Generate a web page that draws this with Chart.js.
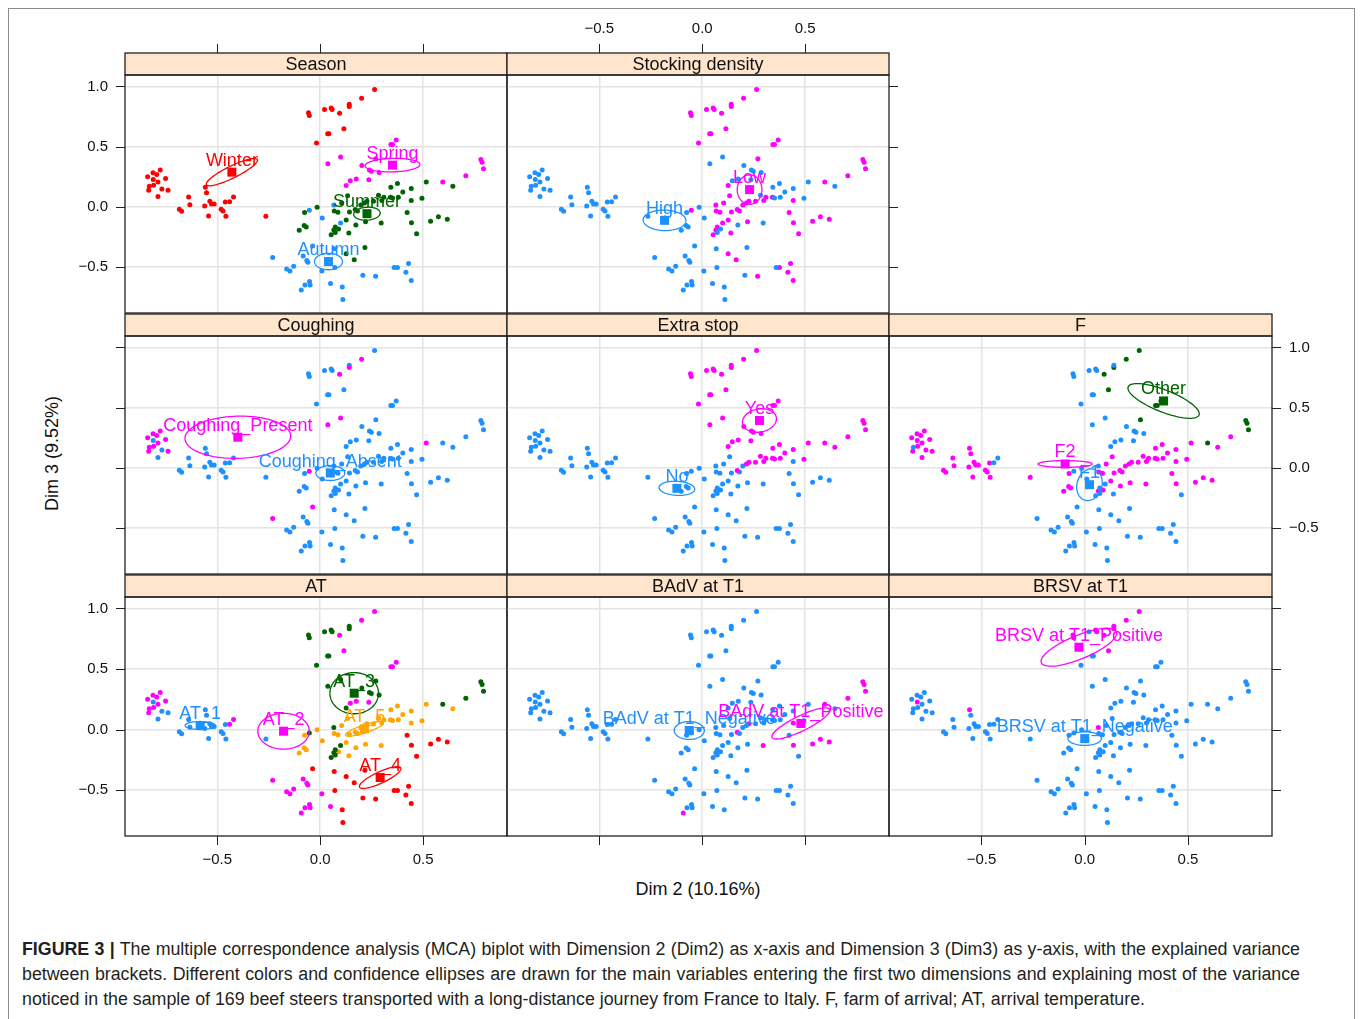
<!DOCTYPE html>
<html lang="en">
<head>
<meta charset="UTF-8">
<title>MCA biplot, Dim 2 vs Dim 3</title>
<script src="https://cdn.jsdelivr.net/npm/chart.js@4.4.0/dist/chart.umd.min.js"></script>
<style>
  body { margin: 0; background: #fff; width: 1360px; height: 1019px; overflow: hidden; position: relative;
         font-family: 'Liberation Sans', Arial, sans-serif; }
  canvas { position: absolute; left: 0; top: 0; }
  .frame { position: absolute; left: 8px; top: 8px; width: 1345px; height: 1040px; border: 1px solid #8c8c8c; }
  .axt { position: absolute; font-size: 18px; color: #111; white-space: nowrap; text-align: center; width: 240px; }
  .cap { position: absolute; left: 22px; width: 1278px; font-size: 17.4px; color: #231f20; line-height: 25px; white-space: nowrap; }
  .just { text-align: justify; text-align-last: justify; }
</style>
</head>
<body>
<div class="frame"></div>
<div class="axt" style="left:578px; top:879px;">Dim 2 (10.16%)</div>
<div class="axt" style="left:-68px; top:443px; transform: rotate(-90deg);">Dim 3 (9.52%)</div>
<div class="cap just" id="cap1" style="top:937px;"><b>FIGURE 3 |</b> The multiple correspondence analysis (MCA) biplot with Dimension 2 (Dim2) as x-axis and Dimension 3 (Dim3) as y-axis, with the explained variance</div>
<div class="cap just" id="cap2" style="top:962px;">between brackets. Different colors and confidence ellipses are drawn for the main variables entering the first two dimensions and explaining most of the variance</div>
<div class="cap" id="cap3" style="top:987px;">noticed in the sample of 169 beef steers transported with a long-distance journey from France to Italy. F, farm of arrival; AT, arrival temperature.</div>
<script>
// axis ticks
const xTicks = [-0.5, 0, 0.5];
const yTicks = [-0.5, 0, 0.5, 1.0];

// individuals: coordinates on Dim 2 and Dim 3
const dim2 = [
  -0.838,-0.812,-0.794,-0.777,-0.751,-0.811,-0.788,-0.830,-0.809,-0.833,-0.769,-0.739,-0.788,
  -0.558,-0.552,-0.639,-0.633,-0.684,-0.673,-0.561,-0.536,-0.528,-0.515,-0.542,-0.481,-0.472,-0.461,-0.440,-0.421,-0.458,-0.264,
  -0.057,-0.053,0.021,0.053,0.058,0.094,0.141,0.141,0.201,0.264,0.115,0.036,0.042,-0.018,0.343,0.351,0.369,
  0.099,0.037,0.270,0.202,0.239,0.248,0.286,0.236,0.175,0.146,0.126,0.343,0.375,0.401,0.442,0.515,0.595,0.644,0.707,0.780,0.786,0.793,
  0.133,0.283,0.299,0.309,0.341,0.351,0.379,0.442,0.494,0.259,0.227,0.215,0.197,0.170,0.181,0.142,0.104,0.066,0.068,0.086,
  -0.015,-0.053,-0.076,0.010,0.126,0.099,0.173,0.220,0.296,0.422,0.443,0.468,0.536,0.574,0.617,
  0.073,0.089,0.066,0.073,0.053,0.139,-0.102,-0.078,-0.068,
  -0.037,0.068,0.217,0.126,0.165,-0.231,-0.083,-0.065,-0.060,-0.163,-0.147,-0.129,0.008,
  0.071,0.207,0.269,0.359,0.375,0.429,0.416,0.442,-0.052,-0.049,-0.074,-0.092,0.050,0.107,0.110
];
const dim3 = [
  0.250,0.283,0.269,0.306,0.236,0.228,0.208,0.172,0.181,0.139,0.150,0.139,0.086,
  0.164,0.117,0.083,0.019,-0.019,-0.036,0.008,0.047,0.025,0.025,-0.075,-0.019,-0.033,0.042,0.044,0.083,-0.078,-0.078,
  0.781,0.758,0.808,0.822,0.808,0.778,0.853,0.833,0.903,0.975,0.650,0.608,0.608,0.531,0.519,0.519,0.556,
  0.414,0.358,0.400,0.344,0.306,0.297,0.286,0.225,0.233,0.217,0.178,0.164,0.194,0.125,0.153,0.208,0.208,0.172,0.258,0.394,0.372,0.317,
  0.092,0.097,0.053,0.081,0.081,0.075,0.081,0.053,0.072,0.047,0.047,0.033,0.017,-0.022,-0.033,-0.042,0.033,0.017,-0.033,-0.044,
  -0.003,-0.028,-0.047,-0.092,-0.108,-0.133,-0.150,-0.122,-0.133,-0.047,-0.131,-0.222,-0.119,-0.081,-0.103,
  -0.167,-0.183,-0.192,-0.211,-0.231,-0.217,-0.194,-0.153,-0.167,
  -0.325,-0.347,-0.336,-0.389,-0.439,-0.419,-0.408,-0.444,-0.458,-0.514,-0.531,-0.492,-0.531,
  -0.503,-0.567,-0.575,-0.503,-0.503,-0.469,-0.542,-0.611,-0.619,-0.647,-0.647,-0.689,-0.636,-0.664,-0.769
];

// category of every individual, as an index into the level list of the variable
const season = [
  0,0,0,0,0,0,0,0,0,0,0,0,0,
  0,0,0,0,0,0,0,0,0,0,0,0,0,0,0,0,0,0,
  0,0,0,0,0,0,0,0,0,0,0,0,0,0,1,1,1,
  1,1,1,1,1,1,1,1,1,1,1,2,2,2,2,2,1,2,1,1,1,1,
  2,2,2,2,2,2,2,2,2,2,2,2,2,2,2,2,2,3,2,2,
  2,3,2,3,2,3,2,2,2,2,2,2,2,2,2,
  2,2,2,2,2,2,2,2,2,
  3,3,2,2,2,3,3,3,3,3,3,3,3,
  3,3,3,3,3,3,3,3,3,3,3,3,3,3,3
];
const stocking = [
  0,0,0,0,0,0,0,0,0,0,0,0,0,
  0,0,0,0,0,0,0,0,0,0,0,0,0,0,0,0,0,0,
  1,1,1,1,1,1,1,1,1,1,1,1,1,1,1,1,1,
  0,0,1,0,0,0,0,0,0,0,1,0,0,0,0,0,1,0,1,1,1,1,
  1,0,1,1,1,0,0,1,0,1,1,1,1,1,1,1,1,1,1,1,
  0,1,0,0,1,1,0,1,0,1,1,1,1,1,1,
  1,0,1,0,1,1,0,0,0,
  0,0,0,1,1,0,0,0,0,0,0,0,0,
  0,0,1,0,1,1,1,1,0,0,0,0,0,0,0
];
const coughing = [
  0,0,0,0,0,1,0,0,0,0,1,0,1,
  1,1,1,1,1,1,1,1,1,1,1,1,1,1,1,1,1,1,
  1,1,1,1,1,0,1,0,0,1,1,1,1,1,1,1,1,
  0,0,1,1,1,1,1,1,1,1,1,1,1,1,1,0,1,1,1,1,1,1,
  1,1,1,1,1,1,1,1,1,1,1,1,1,1,1,1,1,1,1,1,
  1,0,1,1,1,1,1,1,1,1,1,1,1,1,1,
  1,1,1,1,1,1,1,1,1,
  0,1,1,1,1,0,1,1,1,1,1,1,1,
  1,1,1,1,1,1,1,1,1,1,1,1,1,1,1
];
const extraStop = [
  1,1,1,1,1,1,1,1,1,1,1,1,1,
  1,1,1,1,1,1,1,1,1,1,1,1,1,1,1,1,1,1,
  0,0,0,0,0,0,0,0,0,0,0,0,0,0,0,0,0,
  0,0,0,0,0,0,0,0,0,0,0,0,0,0,0,0,0,0,0,0,0,0,
  1,0,0,0,0,0,0,1,0,0,0,0,1,0,1,1,1,1,1,1,
  1,1,1,1,1,1,1,1,1,1,1,1,1,1,1,
  1,1,1,1,1,1,1,1,1,
  1,1,1,1,1,1,1,1,1,1,1,1,1,
  1,1,1,1,1,1,1,1,1,1,1,1,1,1,1
];
const farm = [
  1,1,1,1,1,1,1,0,1,1,1,1,1,
  1,1,1,1,1,1,1,1,1,1,1,1,1,1,0,0,1,1,
  0,0,0,0,0,2,0,2,2,2,2,0,0,0,2,2,2,
  0,0,2,0,0,0,0,0,0,0,0,1,1,1,1,1,2,1,1,2,2,2,
  1,1,1,1,1,1,1,1,1,1,1,1,1,1,1,1,1,0,1,1,
  0,0,1,0,1,0,1,1,1,1,1,0,1,1,1,
  0,1,1,0,0,0,1,1,1,
  0,0,0,0,0,0,0,0,0,0,0,0,0,
  0,0,0,0,0,0,0,0,0,0,0,0,0,0,0
];
const arrivalTemp = [
  1,1,1,1,1,0,1,1,1,1,0,0,0,
  0,0,0,0,0,0,0,0,0,0,0,0,0,0,1,1,0,0,
  2,2,2,2,2,1,2,2,1,1,1,2,2,2,1,1,1,
  2,2,2,2,2,2,2,1,1,1,2,4,4,4,4,4,2,4,2,2,2,2,
  4,4,4,4,4,4,4,4,4,4,4,4,4,4,4,4,4,2,4,4,
  4,2,4,4,4,2,4,4,4,3,3,3,3,3,3,
  2,4,2,2,2,4,4,4,4,
  3,3,3,3,3,1,1,1,1,1,1,1,1,
  3,3,3,3,3,3,3,3,1,1,1,1,1,3,3
];
const badv = [
  0,0,0,0,0,0,0,0,0,0,0,0,0,
  0,0,0,0,0,0,0,0,0,0,0,0,0,0,0,0,0,0,
  0,0,0,0,0,0,0,0,0,0,0,0,0,0,0,0,0,
  0,0,0,0,0,0,0,0,0,0,0,0,0,0,0,0,1,0,1,1,1,1,
  0,0,0,0,0,0,0,1,0,0,1,0,0,1,0,0,0,0,0,0,
  0,0,0,0,0,0,0,0,1,0,1,0,1,1,1,
  0,0,0,0,0,0,0,0,0,
  0,0,0,0,0,0,0,0,0,0,0,0,0,
  0,0,0,0,0,0,0,0,0,0,0,1,0,0
];
const brsv = [
  0,0,0,0,0,1,0,0,0,0,0,0,0,
  1,0,0,0,0,0,0,0,0,0,0,0,0,0,0,0,0,0,
  1,1,0,1,1,1,1,1,1,1,1,0,0,0,0,0,0,
  0,0,0,0,0,0,0,0,0,0,0,0,0,0,0,0,0,0,0,0,0,0,
  0,0,0,0,0,0,0,0,0,0,0,0,0,0,0,0,0,1,0,0,
  0,0,0,0,0,0,0,0,0,0,0,0,0,0,0,
  0,0,0,0,0,0,0,0,0,
  0,0,0,0,0,0,0,0,0,0,0,0,0,
  0,0,0,0,0,0,0,0,0,0,0,0,0,0,0
];

// category levels, their coordinates and confidence ellipses [semi-axis a, semi-axis b, angle deg]
const seasonLevels = ['Winter', 'Spring', 'Summer', 'Autumn'];
const seasonCentres = [[-0.429, 0.289], [0.351, 0.347], [0.227, -0.056], [0.040, -0.453]];
const seasonEllipses = [[0.163, 0.042, 42], [0.133, 0.056, 3], [0.065, 0.053, 15], [0.068, 0.068, 0]];

const stockingLevels = ['High', 'Low'];
const stockingCentres = [[-0.183, -0.111], [0.230, 0.144]];
const stockingEllipses = [[0.104, 0.085, -5], [0.060, 0.122, 0]];

const coughingLevels = ['Coughing_Present', 'Coughing_Absent'];
const coughingCentres = [[-0.400, 0.255], [0.049, -0.042]];
const coughingEllipses = [[0.257, 0.175, 4], [0.070, 0.062, 0]];

const extraStopLevels = ['Yes', 'No'];
const extraStopCentres = [[0.278, 0.394], [-0.123, -0.169]];
const extraStopEllipses = [[0.080, 0.100, -20], [0.087, 0.058, -8]];

const farmLevels = ['F1', 'F2', 'Other'];
const farmCentres = [[0.023, -0.139], [-0.095, 0.033], [0.382, 0.556]];
const farmEllipses = [[0.061, 0.132, -5], [0.131, 0.028, 0], [0.210, 0.080, -38]];

const arrivalTempLevels = ['AT_1', 'AT_2', 'AT_3', 'AT_4', 'AT_5'];
const arrivalTempCentres = [[-0.583, 0.033], [-0.178, -0.014], [0.165, 0.300], [0.291, -0.397], [0.215, 0.005]];
const arrivalTempEllipses = [[0.073, 0.033, 0], [0.125, 0.148, 0], [0.118, 0.170, 0], [0.129, 0.040, 41], [0.106, 0.030, 31]];

const badvLevels = ['BAdV at T1_Negative', 'BAdV at T1_Positive'];
const badvCentres = [[-0.063, -0.008], [0.479, 0.050]];
const badvEllipses = [[0.073, 0.074, 0], [0.183, 0.053, 42]];

const brsvLevels = ['BRSV at T1_Negative', 'BRSV at T1_Positive'];
const brsvCentres = [[0.000, -0.075], [-0.028, 0.680]];
const brsvEllipses = [[0.081, 0.056, 0], [0.226, 0.085, 39]];

// colours
const RED = '#ff0000', MAGENTA = '#ff00ff', GREEN = '#006400', BLUE = '#1e90ff', ORANGE = '#ffa500';

// lattice layout (page pixels)
const colLeft = [125, 507, 889], colRight = [507, 889, 1272];
const rowTop = [75, 336, 597], rowBottom = [313, 574, 836];
const STRIP = 22, TICK = 9;
const W = 1360, H = 1019;

const panels = [
  { title: 'Season', row: 0, col: 0, cat: season, levels: seasonLevels, centres: seasonCentres, ellipses: seasonEllipses, colors: [RED, MAGENTA, GREEN, BLUE] },
  { title: 'Stocking density', row: 0, col: 1, cat: stocking, levels: stockingLevels, centres: stockingCentres, ellipses: stockingEllipses, colors: [BLUE, MAGENTA] },
  { title: 'Coughing', row: 1, col: 0, cat: coughing, levels: coughingLevels, centres: coughingCentres, ellipses: coughingEllipses, colors: [MAGENTA, BLUE] },
  { title: 'Extra stop', row: 1, col: 1, cat: extraStop, levels: extraStopLevels, centres: extraStopCentres, ellipses: extraStopEllipses, colors: [MAGENTA, BLUE] },
  { title: 'F', row: 1, col: 2, cat: farm, levels: farmLevels, centres: farmCentres, ellipses: farmEllipses, colors: [BLUE, MAGENTA, GREEN] },
  { title: 'AT', row: 2, col: 0, cat: arrivalTemp, levels: arrivalTempLevels, centres: arrivalTempCentres, ellipses: arrivalTempEllipses, colors: [BLUE, MAGENTA, GREEN, RED, ORANGE] },
  { title: 'BAdV at T1', row: 2, col: 1, cat: badv, levels: badvLevels, centres: badvCentres, ellipses: badvEllipses, colors: [BLUE, MAGENTA] },
  { title: 'BRSV at T1', row: 2, col: 2, cat: brsv, levels: brsvLevels, centres: brsvCentres, ellipses: brsvEllipses, colors: [BLUE, MAGENTA] }
];

const FONT = "'Liberation Sans', Arial, sans-serif";
const fmt = v => (v < 0 ? '\u2212' : '') + Math.abs(v).toFixed(1);

// caption: size the font so the last (ragged) line is as long as in the figure
(function fitCaption() {
  const m = document.createElement('canvas').getContext('2d');
  const c1 = document.getElementById('cap1'), c3 = document.getElementById('cap3');
  m.font = '17.4px ' + FONT;
  let size = 17.4 * 1191 / m.measureText(c3.textContent).width;
  m.font = size + 'px ' + FONT;
  const w1 = m.measureText(c1.textContent).width + 4;
  if (w1 > 1274) size = size * 1274 / w1;
  document.querySelectorAll('.cap').forEach(el => { el.style.fontSize = size.toFixed(2) + 'px'; });
})();

function ellipse(ctx, xs, ys, cx, cy, a, b, angDeg) {
  const t0 = angDeg * Math.PI / 180;
  ctx.beginPath();
  for (let i = 0; i <= 90; i++) {
    const t = i / 90 * 2 * Math.PI;
    const dx = a * Math.cos(t) * Math.cos(t0) - b * Math.sin(t) * Math.sin(t0);
    const dy = a * Math.cos(t) * Math.sin(t0) + b * Math.sin(t) * Math.cos(t0);
    const px = xs.getPixelForValue(cx + dx), py = ys.getPixelForValue(cy + dy);
    if (i === 0) ctx.moveTo(px, py); else ctx.lineTo(px, py);
  }
  ctx.closePath();
  ctx.stroke();
}

// draws strip, frame, ticks and the category ellipses/labels of a panel
const lattice = {
  id: 'lattice',
  afterDatasetsDraw(chart) {
    const p = chart.options.plugins.lattice.panel;
    const ctx = chart.ctx, xs = chart.scales.x, ys = chart.scales.y;
    ctx.save();
    ctx.lineWidth = 1.3;
    p.levels.forEach((lv, k) => {
      const [cx, cy] = p.centres[k];
      const [a, b, ang] = p.ellipses[k];
      ctx.strokeStyle = p.colors[k];
      ellipse(ctx, xs, ys, cx, cy, a, b, ang);
      const px = xs.getPixelForValue(cx), py = ys.getPixelForValue(cy);
      ctx.fillStyle = p.colors[k];
      ctx.fillRect(px - 4.5, py - 4.5, 9, 9);
      ctx.font = '18px ' + FONT;
      ctx.textAlign = 'center';
      ctx.textBaseline = 'alphabetic';
      ctx.fillText(lv, px, py - 6.5);
    });
    ctx.restore();
  },
  afterDraw(chart) {
    const p = chart.options.plugins.lattice.panel;
    const ctx = chart.ctx, xs = chart.scales.x, ys = chart.scales.y;
    const { left, right, top, bottom } = chart.chartArea;
    ctx.save();
    // strip
    ctx.fillStyle = '#ffe5cc';
    ctx.fillRect(left, top - STRIP, right - left, STRIP);
    ctx.strokeStyle = '#222';
    ctx.lineWidth = 1.3;
    ctx.strokeRect(left, top - STRIP, right - left, STRIP);
    ctx.strokeRect(left, top, right - left, bottom - top);
    ctx.fillStyle = '#111';
    ctx.font = '18px ' + FONT;
    ctx.textAlign = 'center';
    ctx.textBaseline = 'middle';
    ctx.fillText(p.title, (left + right) / 2, top - STRIP / 2 + 1);

    ctx.lineWidth = 1;
    ctx.font = '15px ' + FONT;
    const lastInRow = p.row === 0 ? 1 : 2;
    ctx.beginPath();
    yTicks.forEach(v => {
      const y = Math.round(ys.getPixelForValue(v)) + 0.5;
      if (p.col === 0) { ctx.moveTo(left - TICK, y); ctx.lineTo(left, y); }
      if (p.col === lastInRow) { ctx.moveTo(right, y); ctx.lineTo(right + TICK, y); }
    });
    xTicks.forEach(v => {
      const x = Math.round(xs.getPixelForValue(v)) + 0.5;
      if (p.row === 0) { ctx.moveTo(x, top - STRIP - TICK); ctx.lineTo(x, top - STRIP); }
      if (p.row === 2) { ctx.moveTo(x, bottom); ctx.lineTo(x, bottom + TICK); }
    });
    ctx.stroke();

    ctx.textBaseline = 'middle';
    yTicks.forEach(v => {
      const y = ys.getPixelForValue(v);
      if (p.col === 0 && p.row !== 1) { ctx.textAlign = 'right'; ctx.fillText(fmt(v), left - 17, y); }
      if (p.col === lastInRow && p.row === 1) { ctx.textAlign = 'left'; ctx.fillText(fmt(v), right + 17, y); }
    });
    ctx.textAlign = 'center';
    xTicks.forEach(v => {
      const x = xs.getPixelForValue(v);
      if (p.row === 0 && p.col === 1) ctx.fillText(fmt(v), x, top - STRIP - 24);
      if (p.row === 2 && p.col !== 1) ctx.fillText(fmt(v), x, bottom + 24);
    });
    ctx.restore();
  }
};

panels.forEach(p => {
  const cv = document.createElement('canvas');
  cv.width = W; cv.height = H;
  document.body.appendChild(cv);
  const datasets = p.levels.map((lv, k) => {
    const pts = [];
    for (let i = 0; i < dim2.length; i++) {
      if (p.cat[i] === k) pts.push({ x: dim2[i], y: dim3[i] });
    }
    return { label: lv, data: pts, backgroundColor: p.colors[k], pointRadius: 2.5, pointBorderWidth: 0 };
  });
  new Chart(cv, {
    type: 'scatter',
    data: { datasets },
    options: {
      responsive: false,
      animation: false,
      devicePixelRatio: 1,
      events: [],
      layout: {
        autoPadding: false,
        padding: { left: colLeft[p.col], right: W - colRight[p.col], top: rowTop[p.row], bottom: H - rowBottom[p.row] }
      },
      plugins: { legend: { display: false }, tooltip: { enabled: false }, lattice: { panel: p } },
      scales: {
        x: {
          type: 'linear', min: -0.948, max: 0.907,
          afterBuildTicks: s => { s.ticks = xTicks.map(v => ({ value: v })); },
          afterFit: s => { s.height = 0; },
          ticks: { display: false },
          grid: { color: '#e4e4e4', lineWidth: 1.5, drawTicks: false },
          border: { display: false }
        },
        y: {
          type: 'linear', min: -0.88, max: 1.095,
          afterBuildTicks: s => { s.ticks = yTicks.map(v => ({ value: v })); },
          afterFit: s => { s.width = 0; },
          ticks: { display: false },
          grid: { color: '#e4e4e4', lineWidth: 1.5, drawTicks: false },
          border: { display: false }
        }
      }
    },
    plugins: [lattice]
  });
});
</script>
</body>
</html>
